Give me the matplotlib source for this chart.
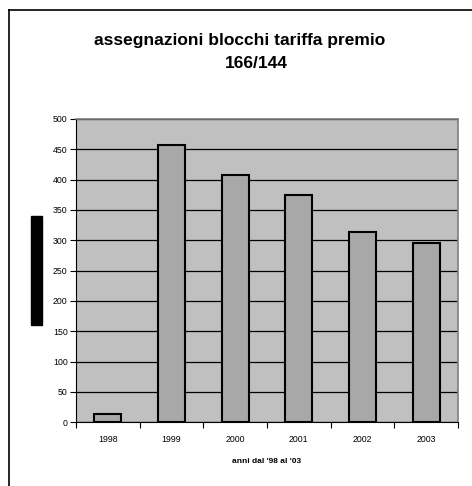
import matplotlib
matplotlib.use("Agg")
import matplotlib.pyplot as plt
from matplotlib.lines import Line2D
from matplotlib.patches import Rectangle

# ── Data ────────────────────────────────────────────────
years  = ["1998", "1999", "2000", "2001", "2002", "2003"]
values = [13, 457, 408, 375, 313, 296]
y_ticks = [0, 50, 100, 150, 200, 250, 300, 350, 400, 450, 500]

TITLE_1 = "assegnazioni blocchi tariffa premio"
TITLE_2 = "166/144"
XLABEL  = "anni dal '98 al '03"

plt.rcParams['font.family'] = ['Liberation Sans', 'DejaVu Sans']

fig = plt.figure(figsize=(4.72, 4.86), dpi=100)
fig.patch.set_facecolor("white")

# plot area
ax = fig.add_axes([76/472, 1 - 422.3/486, (458 - 76)/472, (422.3 - 119)/486])
ax.set_facecolor("#c0c0c0")

x = list(range(len(years)))
ax.bar(x, values, width=0.42, color="#a8a8a8",
       edgecolor="black", linewidth=1.5, zorder=3)

ax.set_ylim(0, 500)
ax.set_xlim(-0.5, len(years) - 0.5)
ax.set_yticks(y_ticks)
ax.set_yticklabels([str(v) for v in y_ticks], fontsize=6.3)
ax.yaxis.grid(True, color="black", linewidth=0.9, zorder=1)
ax.set_axisbelow(True)

# x ticks between categories, labels centred
ax.set_xticks([i + 0.5 for i in range(-1, len(years))])
ax.set_xticklabels([])
ax.set_xticks(x, minor=True)
ax.set_xticklabels(years, minor=True, fontsize=6.3)
ax.tick_params(axis="x", which="minor", length=0, pad=9)
ax.tick_params(axis="x", which="major", length=4, width=0.8)
ax.tick_params(axis="y", length=4, width=0.8, pad=2)

for side in ["top", "right"]:
    ax.spines[side].set_color("#808080")
    ax.spines[side].set_linewidth(1.2)
ax.spines["left"].set_linewidth(0.8)
ax.spines["bottom"].set_linewidth(0.8)

ax.set_xlabel(XLABEL, fontsize=6, fontweight="bold", labelpad=10)

# titles
fig.text(240/472, 1 - 41/486, TITLE_1, ha="center", va="center",
         fontsize=12.5, fontweight="bold")
fig.text(256/472, 1 - 63/486, TITLE_2, ha="center", va="center",
         fontsize=12.5, fontweight="bold")

# black box where the y label should be
fig.patches.append(Rectangle((31/472, 1 - 325/486), 11/472, 109/486,
                             transform=fig.transFigure, color="black"))

# outer chart frame (left + top only visible)
fig.lines.append(Line2D([9/472, 9/472], [0, 1 - 10/486],
                        transform=fig.transFigure, color="black", lw=1.2))
fig.lines.append(Line2D([9/472, 1], [1 - 10/486, 1 - 10/486],
                        transform=fig.transFigure, color="black", lw=1.2))

fig.savefig("out.png", dpi=100)
